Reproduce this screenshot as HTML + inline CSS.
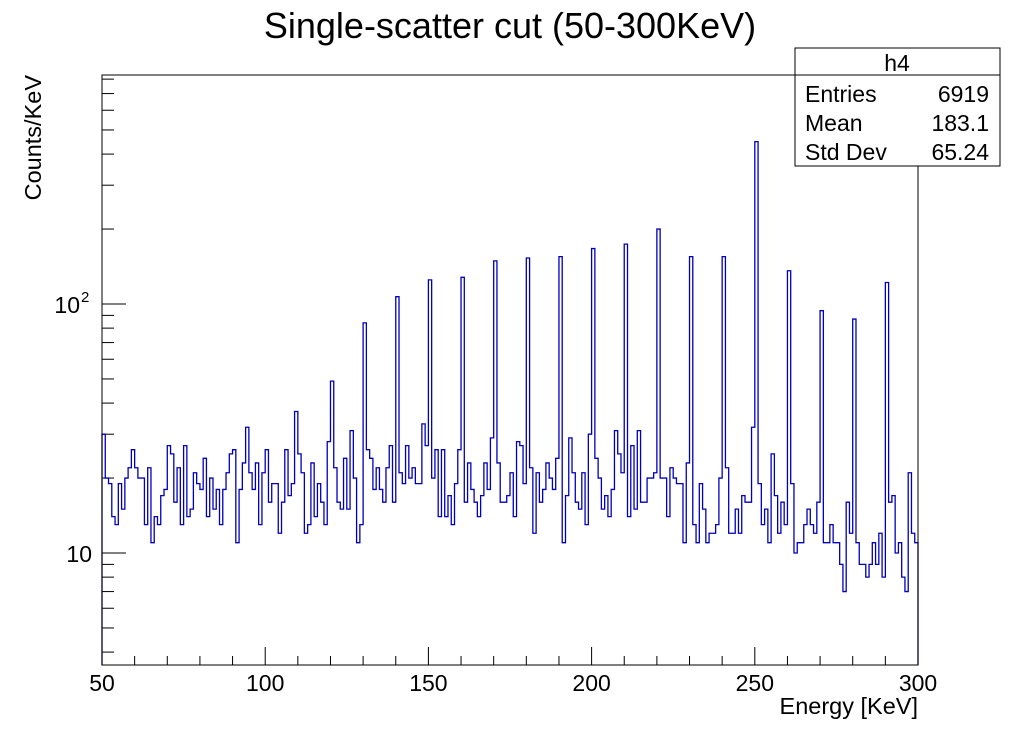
<!DOCTYPE html>
<html><head><meta charset="utf-8"><style>
body{margin:0;background:#fff;}
svg{display:block;font-family:"Liberation Sans",Arial,sans-serif;}
</style></head><body>
<svg id="chart" width="1020" height="740" viewBox="0 0 1020 740" xmlns="http://www.w3.org/2000/svg">
<rect width="1020" height="740" fill="#fff"/>
<text x="510" y="38" font-size="36" text-anchor="middle">Single-scatter cut (50-300KeV)</text>
<g id="axes"></g>
<path id="hist" fill="none" stroke="#0000b8" stroke-width="1.3"/>
<rect x="102" y="75" width="816" height="590" fill="none" stroke="#000" stroke-width="1"/>
<text transform="translate(41,75) rotate(-90)" font-size="23.5" text-anchor="end">Counts/KeV</text>
<text x="918" y="714" font-size="23.5" text-anchor="end">Energy [KeV]</text>
<g>
<rect x="795" y="48" width="205" height="118" fill="#fff" stroke="#000" stroke-width="1"/>
<line x1="795" y1="75" x2="1000" y2="75" stroke="#000"/>
<text x="897" y="71" font-size="23" text-anchor="middle">h4</text>
<text x="805" y="102" font-size="23">Entries</text>
<text x="989" y="102" font-size="23" text-anchor="end">6919</text>
<text x="805" y="131" font-size="23">Mean</text>
<text x="989" y="131" font-size="23" text-anchor="end">183.1</text>
<text x="805" y="160" font-size="23">Std Dev</text>
<text x="989" y="160" font-size="23" text-anchor="end">65.24</text>
</g>
</svg>
<script>
const binStart = 50;
const binWidth = 1;
const counts = [30,20,19,14,13,19,15,20,22,26,22,20,20,13,22,11,14,13,17,18,
27,25,16,22,13,27,14,15,21,19,18,24,14,20,15,18,13,18,21,25,
26,11,18,23,32,21,18,23,13,21,26,16,19,19,12,16,26,17,19,37,
25,21,12,13,23,14,19,16,13,28,49,22,16,15,24,15,31,20,11,13,
84,26,24,18,22,18,16,22,27,16,107,21,19,27,20,22,19,19,33,27,
125,20,26,14,26,14,17,13,19,26,128,16,23,18,16,14,17,23,18,29,
149,23,16,16,17,21,14,28,27,19,153,22,12,21,16,18,23,20,18,24,
155,11,17,29,21,16,15,21,13,30,167,24,20,15,17,14,18,31,25,21,
174,14,27,15,31,16,16,20,20,21,200,20,20,14,22,20,19,19,11,23,
155,13,11,19,15,11,12,12,13,20,155,22,12,12,15,12,17,16,16,32,
449,19,13,15,11,25,17,12,16,13,136,19,10,11,11,13,15,13,12,16,
94,11,11,13,11,11,9,7,16,12,87,11,9,9,8,9,11,9,12,8,
122,16,17,10,11,8,7,21,12,11];
const xTickLabels = ["50","100","150","200","250","300"];
const xTickValues = [50,100,150,200,250,300];

const X0=102,X1=918,Y0=75,Y1=665, xmin=50,xmax=300;
const yTenPx=553, decadePx=249;
function xs(v){return X0+(v-xmin)/(xmax-xmin)*(X1-X0);}
function ys(v){return yTenPx-decadePx*Math.log10(v/10);}
const ymin=10*Math.pow(10,(yTenPx-Y1)/decadePx), ymax=10*Math.pow(10,(yTenPx-Y0)/decadePx);

const NS="http://www.w3.org/2000/svg";
let d="M"+xs(binStart)+","+Y1;
counts.forEach((c,i)=>{
  const y=Math.max(Y0,Math.min(Y1,ys(Math.max(c,ymin))));
  const xa=xs(binStart+i*binWidth), xb=xs(binStart+(i+1)*binWidth);
  d+=" L"+xa.toFixed(2)+","+y.toFixed(2)+" L"+xb.toFixed(2)+","+y.toFixed(2);
});
d+=" L"+xs(binStart+counts.length*binWidth)+","+Y1;
document.getElementById('hist').setAttribute('d',d);

const axes=document.getElementById('axes');
function line(x1,y1,x2,y2,name){
  const l=document.createElementNS(NS,'line');
  l.setAttribute('x1',x1);l.setAttribute('y1',y1);l.setAttribute('x2',x2);l.setAttribute('y2',y2);
  l.setAttribute('stroke','#000');l.setAttribute('stroke-width','1');
  
  
  axes.appendChild(l);
}
function text(x,y,s,size,anchor,name){
  const t=document.createElementNS(NS,'text');
  t.setAttribute('x',x);t.setAttribute('y',y);t.setAttribute('font-size',size);t.setAttribute('text-anchor',anchor);
  t.textContent=s;
  
  
  axes.appendChild(t);
  return t;
}
for(let v=50; v<=300; v+=10){
  const major=(v%50===0);
  line(xs(v),Y1,xs(v),Y1-(major?18:9),'x-tick');
}
xTickValues.forEach((v,i)=>text(xs(v),691,xTickLabels[i],23,'middle','x-tick-label'));
for(let dec=1; dec<=100; dec*=10){
  for(let m=1;m<=9;m++){
    const v=dec*m;
    if(v<ymin||v>ymax) continue;
    const major=(m===1);
    line(X0,ys(v),X0+(major?24:12),ys(v),'y-tick');
  }
}
text(92,562,"10",23,'end','y-tick-label-10');
text(80,313,"10",23,'end','y-tick-label-100');
const sup=document.createElementNS(NS,'text');
sup.setAttribute('x',81);sup.setAttribute('y',302);sup.setAttribute('font-size',15);
sup.textContent="2";


axes.appendChild(sup);
</script>
</body></html>
